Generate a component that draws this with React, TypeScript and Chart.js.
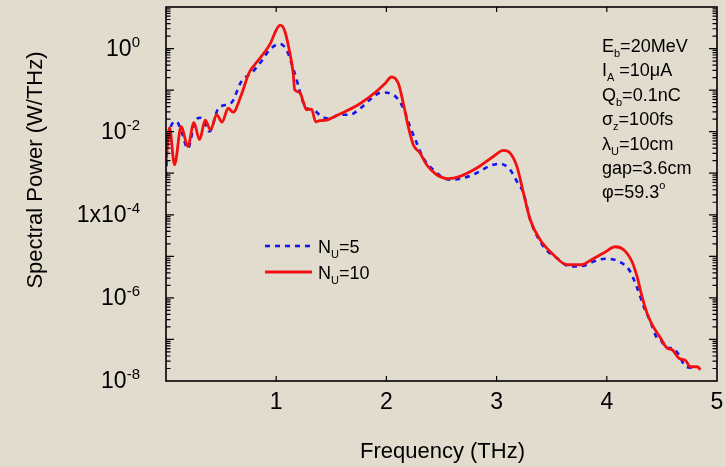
import React, { useEffect, useRef } from 'react';
import { Chart, registerables } from 'chart.js';

Chart.register(...registerables);

// ---- Data ----
const freqN10 = [
  0.0, 0.032, 0.077, 0.138, 0.198, 0.253, 0.305, 0.355, 0.405, 0.459, 0.509, 0.564, 0.609, 0.684, 0.753, 0.805,
  0.865, 0.941, 1.002, 1.036, 1.077, 1.118, 1.153, 1.168, 1.214, 1.244, 1.275, 1.32, 1.359, 1.395, 1.456, 1.532,
  1.623, 1.759, 1.911, 1.986, 2.047, 2.107, 2.153, 2.198, 2.244, 2.305, 2.365, 2.456, 2.562, 2.668, 2.82, 2.971,
  3.062, 3.123, 3.184, 3.244, 3.305, 3.395, 3.516, 3.638, 3.775, 3.85, 3.971, 4.077, 4.153, 4.229, 4.275, 4.32,
  4.365, 4.411, 4.486, 4.547, 4.593, 4.653, 4.714, 4.759, 4.82, 4.85,
];
const powerN10 = [
  1.9e-3, 1.25e-2, 1.6e-3, 1.34e-2, 4.4e-3, 1.64e-2, 6.4e-3, 1.89e-2, 1.11e-2, 2.56e-2, 1.69e-2, 3.66e-2, 2.94e-2,
  7.75e-2, 0.258, 0.408, 0.647, 1.24, 2.84, 3.65, 2.69, 0.938, 0.27, 0.102, 0.089, 0.054, 0.0337, 0.0347, 0.0173,
  0.0184, 0.0189, 0.0233, 0.0302, 0.0471, 0.0931, 0.1426, 0.2065, 0.148, 0.049, 0.01336, 4.85e-3, 3.06e-3, 1.6e-3,
  9.2e-4, 7.4e-4, 8.4e-4, 1.33e-3, 2.53e-3, 3.54e-3, 3.06e-3, 1.46e-3, 3.33e-4, 7.6e-5, 2.51e-5, 1.09e-5, 6.28e-6,
  6.28e-6, 7.96e-6, 1.2e-5, 1.7e-5, 1.44e-5, 7.4e-6, 3.23e-6, 1.07e-6, 4.3e-7, 2.26e-7, 1.1e-7, 6.2e-8, 5.65e-8,
  3.56e-8, 3.12e-8, 2.2e-8, 2.2e-8, 1.87e-8,
];
const freqN5 = [
  0.0, 0.014, 0.093, 0.141, 0.198, 0.268, 0.32, 0.395, 0.477, 0.593, 0.684, 0.775, 0.865, 0.941, 1.032, 1.093,
  1.153, 1.198, 1.229, 1.275, 1.335, 1.411, 1.486, 1.577, 1.668, 1.759, 1.85, 1.956, 2.062, 2.153, 2.214, 2.275,
  2.335, 2.425, 2.577, 2.698, 2.82, 2.941, 3.032, 3.123, 3.184, 3.244, 3.305, 3.425, 3.547, 3.668, 3.789, 3.88,
  3.986, 4.095, 4.205, 4.275, 4.335, 4.395, 4.456, 4.486, 4.547, 4.593, 4.653, 4.714, 4.777,
];
const powerN5 = [
  8.4e-4, 5.4e-3, 1.77e-2, 1.0e-2, 3.9e-3, 1.94e-2, 2.17e-2, 1.01e-2, 3.7e-2, 4.98e-2, 0.162, 0.258, 0.491, 0.938,
  1.29, 0.938, 0.34, 0.135, 0.0656, 0.037, 0.0337, 0.0233, 0.0205, 0.0256, 0.0256, 0.0356, 0.0587, 0.088, 0.0775,
  0.037, 0.01336, 5.33e-3, 2.32e-3, 1.21e-3, 6.97e-4, 7.66e-4, 1.01e-3, 1.51e-3, 1.69e-3, 1.21e-3, 6.35e-4, 3.33e-4,
  7.6e-5, 1.73e-5, 9.1e-6, 5.7e-6, 5.94e-6, 7.5e-6, 8.75e-6, 7.83e-6, 4.62e-6, 1.75e-6, 6.2e-7, 2.71e-7, 1.08e-7,
  9.8e-8, 6.2e-8, 6.2e-8, 4.3e-8, 2.24e-8, 2.08e-8,
];

const xTickValues = [1, 2, 3, 4, 5];
const xTickLabels = ['1', '2', '3', '4', '5'];
const yTickValues = [1, 1e-2, 1e-4, 1e-6, 1e-8];
const yTickBases = ['10', '10', '1x10', '10', '10'];
const yTickExps = ['0', '-2', '-4', '-6', '-8'];
const yDecades = [1e-8, 1e-7, 1e-6, 1e-5, 1e-4, 1e-3, 1e-2, 1e-1, 1, 10];
const minorFactors = [2, 3, 4, 5, 6, 7, 8, 9];

const xTitle = 'Frequency (THz)';
const yTitle = 'Spectral Power (W/THz)';

// legend: [base, subscript, rest]
const legendBase = 'N';
const legendSub = 'U';
const legendRestN5 = '=5';
const legendRestN10 = '=10';

// annotation lines: [main, subscript, rest, superscript]
const annotationLines: [string, string, string, string][] = [
  ['E', 'b', '=20MeV', ''],
  ['I', 'A', ' =10\u03bcA', ''],
  ['Q', 'b', '=0.1nC', ''],
  ['\u03c3', 'z', '=100fs', ''],
  ['\u03bb', 'U', '=10cm', ''],
  ['gap=3.6cm', '', '', ''],
  ['\u03c6=59.3', '', '', 'o'],
];

const BG = '#e2dccf';
const FONT = '"Liberation Sans", Arial, Helvetica, sans-serif';

type Part = { t: string; k: 'n' | 'sub' | 'sup' };

function richWidth(ctx: CanvasRenderingContext2D, parts: Part[], size: number, small: number) {
  let w = 0;
  for (const p of parts) {
    ctx.font = `${p.k === 'n' ? size : small}px ${FONT}`;
    w += ctx.measureText(p.t).width;
  }
  return w;
}

function drawRich(
  ctx: CanvasRenderingContext2D,
  parts: Part[],
  x: number,
  y: number,
  size: number,
  small: number,
  subOff: number,
  supOff: number,
) {
  let cx = x;
  ctx.textAlign = 'left';
  ctx.textBaseline = 'alphabetic';
  for (const p of parts) {
    if (!p.t) continue;
    ctx.font = `${p.k === 'n' ? size : small}px ${FONT}`;
    const dy = p.k === 'sub' ? subOff : p.k === 'sup' ? -supOff : 0;
    ctx.fillText(p.t, cx, y + dy);
    cx += ctx.measureText(p.t).width;
  }
}

const framePlugin = {
  id: 'framePlugin',
  afterDatasetsDraw(chart: any) {
    const ctx: CanvasRenderingContext2D = chart.ctx;
    const { left, right, top, bottom } = chart.chartArea;
    const xs = chart.scales.x;
    const ys = chart.scales.y;
    ctx.save();
    ctx.strokeStyle = '#000';
    ctx.fillStyle = '#000';

    // frame
    ctx.lineWidth = 1.6;
    ctx.strokeRect(left, top, right - left, bottom - top);

    // x ticks (inward, bottom and top)
    ctx.lineWidth = 1.2;
    ctx.beginPath();
    for (const v of xTickValues) {
      const px = xs.getPixelForValue(v);
      if (px >= right - 1) continue;
      ctx.moveTo(px, bottom);
      ctx.lineTo(px, bottom - 5);
      ctx.moveTo(px, top);
      ctx.lineTo(px, top + 5);
    }
    // y ticks (inward, left and right)
    for (const d of yDecades) {
      const py = ys.getPixelForValue(d);
      if (py > top + 0.5 && py < bottom - 0.5) {
        ctx.moveTo(left, py);
        ctx.lineTo(left + 8, py);
        ctx.moveTo(right, py);
        ctx.lineTo(right - 8, py);
      }
      for (const m of minorFactors) {
        const v = d * m;
        const pm = ys.getPixelForValue(v);
        if (pm <= top || pm >= bottom) continue;
        ctx.moveTo(left, pm);
        ctx.lineTo(left + 4.5, pm);
        ctx.moveTo(right, pm);
        ctx.lineTo(right - 4.5, pm);
      }
    }
    ctx.stroke();

    // x tick labels
    ctx.font = `23px ${FONT}`;
    ctx.textAlign = 'center';
    ctx.textBaseline = 'alphabetic';
    xTickValues.forEach((v, i) => {
      ctx.fillText(xTickLabels[i], xs.getPixelForValue(v), 409);
    });

    // y tick labels with superscript exponent
    yTickValues.forEach((v, i) => {
      const py = ys.getPixelForValue(v);
      const parts: Part[] = [
        { t: yTickBases[i], k: 'n' },
        { t: yTickExps[i], k: 'sup' },
      ];
      const w = richWidth(ctx, parts, 23, 15);
      drawRich(ctx, parts, 140 - w, py + 7, 23, 15, 0, 9);
    });

    // axis titles
    ctx.font = `22px ${FONT}`;
    ctx.textAlign = 'center';
    ctx.textBaseline = 'alphabetic';
    ctx.fillText(xTitle, (left + right) / 2 + 1, 458);
    ctx.save();
    ctx.translate(42, 170);
    ctx.rotate(-Math.PI / 2);
    ctx.fillText(yTitle, 0, 0);
    ctx.restore();

    // annotation block
    annotationLines.forEach((ln, i) => {
      const parts: Part[] = [
        { t: ln[0], k: 'n' },
        { t: ln[1], k: 'sub' },
        { t: ln[2], k: 'n' },
        { t: ln[3], k: 'sup' },
      ];
      drawRich(ctx, parts, 602, 52 + i * 24.4, 18, 11, 5, 9);
    });

    // legend (blue first, then red) drawn from dataset styles
    const order = [1, 0];
    const rests = [legendRestN5, legendRestN10];
    order.forEach((di, row) => {
      const ds = chart.data.datasets[di];
      const ly = 246 + row * 26;
      ctx.save();
      ctx.strokeStyle = ds.borderColor;
      ctx.lineWidth = ds.borderWidth;
      ctx.setLineDash(ds.borderDash || []);
      ctx.beginPath();
      ctx.moveTo(265, ly);
      ctx.lineTo(312, ly);
      ctx.stroke();
      ctx.restore();
      ctx.fillStyle = '#000';
      drawRich(
        ctx,
        [
          { t: legendBase, k: 'n' },
          { t: legendSub, k: 'sub' },
          { t: rests[row], k: 'n' },
        ],
        318,
        ly + 7,
        18,
        11,
        5,
        9,
      );
    });

    ctx.restore();
  },
};

export default function App() {
  const ref = useRef<HTMLCanvasElement>(null);

  useEffect(() => {
    const canvas = ref.current;
    if (!canvas) return;
    const chart = new Chart(canvas, {
      type: 'line',
      data: {
        datasets: [
          {
            label: 'NU=10',
            data: freqN10.map((f, i) => ({ x: f, y: powerN10[i] })),
            borderColor: '#f21010',
            borderWidth: 2.8,
            pointRadius: 0,
            cubicInterpolationMode: 'monotone',
            fill: false,
          },
          {
            label: 'NU=5',
            data: freqN5.map((f, i) => ({ x: f, y: powerN5[i] })),
            borderColor: '#1414f0',
            borderWidth: 2.6,
            borderDash: [5, 5],
            pointRadius: 0,
            cubicInterpolationMode: 'monotone',
            fill: false,
          },
        ],
      },
      options: {
        animation: false,
        responsive: false,
        devicePixelRatio: 1,
        layout: { padding: { left: 0, top: 7, right: 9, bottom: 0 } },
        plugins: { legend: { display: false }, tooltip: { enabled: false } },
        scales: {
          x: {
            type: 'linear',
            min: 0,
            max: 5,
            ticks: { display: false, stepSize: 1 },
            grid: { display: false },
            border: { display: false },
            afterFit: (s: any) => {
              s.height = 86;
            },
          },
          y: {
            type: 'logarithmic',
            min: 1e-8,
            max: 10,
            ticks: { display: false },
            grid: { display: false },
            border: { display: false },
            afterFit: (s: any) => {
              s.width = 166;
            },
          },
        },
      },
      plugins: [framePlugin],
    } as any);
    return () => chart.destroy();
  }, []);

  return (
    <div style={{ position: 'fixed', left: 0, top: 0, width: 726, height: 467, background: BG }}>
      <canvas ref={ref} width={726} height={467} style={{ display: 'block', width: 726, height: 467 }} />
    </div>
  );
}
